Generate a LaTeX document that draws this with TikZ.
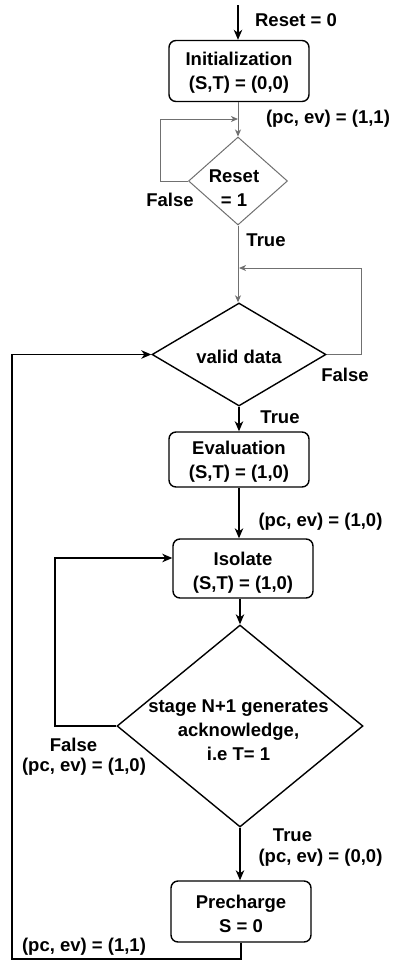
\documentclass[tikz,border=0pt]{standalone}
\usepackage{fontspec}
\setmainfont{Liberation Sans}
\usetikzlibrary{shapes.geometric,arrows.meta}
\definecolor{linegray}{HTML}{707070}
\tikzset{
  txt/.style={font=\fontsize{18.5}{24}\selectfont\bfseries, align=center, inner sep=0pt},
  stepbox/.style={draw=black, line width=1.4pt, rounded corners=7pt, inner sep=0pt},
  decision/.style={diamond, inner sep=0pt},
  blk/.style={draw=black, line width=1.4pt, -{Stealth[length=10pt,width=8.5pt,inset=3pt]}},
  gry/.style={draw=linegray, line width=1pt, -{Stealth[length=7pt,width=6pt,inset=2pt]}},
  plainblk/.style={draw=black, line width=1.4pt},
  plaingry/.style={draw=linegray, line width=1pt},
}
\begin{document}
\begin{tikzpicture}[x=1pt,y=-1pt]
\useasboundingbox (0,0) rectangle (393,962);

% process boxes
\node[stepbox, minimum width=140pt, minimum height=61pt] (init) at (239,71) {};
\node[stepbox, minimum width=140pt, minimum height=55pt] (eval) at (239,459.5) {};
\node[stepbox, minimum width=140pt, minimum height=59pt] (iso)  at (243,568.5) {};
\node[stepbox, minimum width=140pt, minimum height=61pt] (pre)  at (241,911.5) {};

% decisions
\node[decision, draw=linegray, line width=1pt, minimum width=99pt, minimum height=88pt] (rst) at (238,181) {};
\node[decision, draw=black, line width=1.4pt, minimum width=174pt, minimum height=103pt] (valid) at (239,354.5) {};
\node[decision, draw=black, line width=1.4pt, minimum width=246pt, minimum height=202pt] (ack) at (240,726) {};

% texts inside shapes
\node[txt] (tinit) at (239,73) {Initialization\\(S,T) = (0,0)};
\node[txt] (trst) at (234,188) {Reset\\= 1};
\node[txt] (tvalid) at (239,357) {valid data};
\node[txt] (teval) at (239,462) {Evaluation\\(S,T) = (1,0)};
\node[txt] (tiso) at (243,573) {Isolate\\(S,T) = (1,0)};
\node[txt] (tack) at (238.5,730) {stage N+1 generates\\acknowledge,\\i.e T= 1};
\node[txt] (tpre) at (241,914) {Precharge\\S = 0};

% edge labels
\node[txt] (lreset0) at (296,20) {Reset = 0};
\node[txt] (lpc11a) at (328,119) {(pc, ev) = (1,1)};
\node[txt] (lfalse1) at (170,200) {False};
\node[txt] (ltrue1) at (266,240) {True};
\node[txt] (lfalse2) at (345,375) {False};
\node[txt] (ltrue2) at (280,417) {True};
\node[txt] (lpc10a) at (320.5,522) {(pc, ev) = (1,0)};
\node[txt] (lfalse3) at (73.5,745) {False};
\node[txt] (lpc10b) at (84,767) {(pc, ev) = (1,0)};
\node[txt] (ltrue3) at (292.5,835) {True};
\node[txt] (lpc00) at (320.5,858) {(pc, ev) = (0,0)};
\node[txt] (lpc11b) at (84,947) {(pc, ev) = (1,1)};

% helper points for the loops
\coordinate (start) at (238,5);
\coordinate (j1) at (238,119);
\coordinate (l1) at (160,181);
\coordinate (l1t) at (160,119);
\coordinate (j2) at (239,268);
\coordinate (r2) at (361,354.5);
\coordinate (r2t) at (361,268);
\coordinate (l3) at (55,726);
\coordinate (l3t) at (55,558);
\coordinate (b1) at (241,959);
\coordinate (b2) at (12,959);
\coordinate (b3) at (12,354.5);

% connectors
\draw[blk] (start) -- (start |- init.north);
\draw[gry] (init.south -| rst.north) -- (rst.north);
\draw[gry] (rst.west) -- (l1) -- (l1t) -- (j1);
\draw[gry] (rst.south) -- (rst.south |- valid.north);
\draw[gry] (valid.east) -- (r2) -- (r2t) -- (j2);
\draw[blk] (valid.south) -- (eval.north);
\draw[blk] (eval.south) -- (eval.south |- iso.north);
\draw[blk] (iso.south -| ack.north) -- (ack.north);
\draw[blk] (ack.west) -- (l3) -- (l3t) -- (iso.west |- l3t);
\draw[blk] (ack.south) -- (ack.south |- pre.north);
\draw[blk] (pre.south) -- (b1) -- (b2) -- (b3) -- (valid.west);
\end{tikzpicture}
\end{document}
